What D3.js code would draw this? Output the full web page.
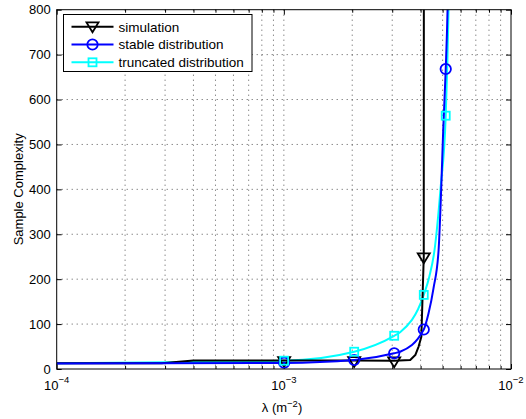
<!DOCTYPE html>
<html>
<head>
<meta charset="utf-8">
<script src="https://cdn.jsdelivr.net/npm/d3@7"></script>
<style>
  body { margin: 0; background: #fff; }
  svg { display: block; font-family: "Liberation Sans", Arial, sans-serif; }
</style>
</head>
<body>
<div id="chart"></div>
<script>
// marker positions (lambda, m^-2) and values
var lambdaMarks = [1.003e-3, 2.04e-3, 3.06e-3, 4.13e-3, 5.16e-3];
var simMarks    = [19, 19, 18.5, 250];
var stableMarks = [14, 20, 35, 88, 668];
var truncMarks  = [18.5, 38.5, 74, 165, 564];

// line traces
var simLambda = [1e-4, 2.9e-4, 4e-4, 1.003e-3, 2.04e-3, 3.06e-3, 3.6e-3, 3.79e-3, 3.92e-3, 4.03e-3, 4.13e-3, 4.135e-3];
var simLine   = [13, 13, 19, 19, 19, 18.5, 20, 31, 50, 72, 250, 1000];

var stableLambda = [1e-4, 1.003e-3, 2.04e-3, 3.06e-3, 3.25e-3, 4.13e-3, 4.335e-3, 4.56e-3, 4.8e-3, 4.93e-3, 5.03e-3, 5.16e-3, 5.256e-3, 5.3e-3];
var stableLine   = [12.5, 13.5, 20, 35, 38.5, 88, 124, 180, 265, 403, 532, 668, 800, 900];

var truncLambda = [1e-4, 1.003e-3, 2.04e-3, 3.06e-3, 3.25e-3, 4.13e-3, 4.366e-3, 4.607e-3, 4.897e-3, 5.16e-3, 5.31e-3, 5.35e-3];
var truncLine   = [13, 18.5, 38.5, 74, 82, 165, 205, 265, 403, 564, 800, 900];

var yTicks = [0, 100, 200, 300, 400, 500, 600, 700, 800];
var xMajor = [1e-4, 1e-3, 1e-2];
var xMajorExp = ["\u22124", "\u22123", "\u22122"];
var xMinor = [2e-4, 3e-4, 4e-4, 5e-4, 6e-4, 7e-4, 8e-4, 9e-4,
              2e-3, 3e-3, 4e-3, 5e-3, 6e-3, 7e-3, 8e-3, 9e-3];

var legendNames = ["simulation", "stable distribution", "truncated distribution"];

var W = 526, H = 419;
var pLeft = 56.7, pRight = 511, pTop = 9.7, pBottom = 369;

var svg = d3.select("#chart").append("svg")
  .attr("width", W).attr("height", H);

var x = d3.scaleLog().domain([1e-4, 1e-2]).range([pLeft, pRight]);
var y = d3.scaleLinear().domain([0, 800]).range([pBottom, pTop]);

svg.append("clipPath").attr("id", "clip")
  .append("rect")
  .attr("x", pLeft).attr("y", pTop)
  .attr("width", pRight - pLeft).attr("height", pBottom - pTop);

// dotted grid
var grid = svg.append("g").attr("stroke", "#444").attr("stroke-width", 0.9)
  .attr("stroke-dasharray", "1,4");
grid.selectAll(".gy").data(yTicks.slice(1, -1)).enter().append("line")
  .attr("x1", pLeft).attr("x2", pRight)
  .attr("y1", function(d) { return y(d); }).attr("y2", function(d) { return y(d); });
grid.selectAll(".gx").data(xMinor.concat([1e-3])).enter().append("line")
  .attr("y1", pTop).attr("y2", pBottom)
  .attr("x1", function(d) { return x(d); }).attr("x2", function(d) { return x(d); });

// axes with inward ticks
var fontSize = 13;
var yAxis = svg.append("g").attr("transform", "translate(" + pLeft + ",0)")
  .call(d3.axisLeft(y).tickValues(yTicks).tickSizeInner(-5).tickSizeOuter(0).tickPadding(6));
svg.append("g").attr("transform", "translate(" + pRight + ",0)")
  .call(d3.axisRight(y).tickValues(yTicks).tickSizeInner(-5).tickSizeOuter(0).tickFormat(""));
svg.append("g").attr("transform", "translate(0," + pBottom + ")")
  .call(d3.axisBottom(x).tickValues(xMajor).tickSizeInner(-5).tickSizeOuter(0).tickFormat(""));
svg.append("g").attr("transform", "translate(0," + pBottom + ")")
  .call(d3.axisBottom(x).tickValues(xMinor).tickSizeInner(-3).tickSizeOuter(0).tickFormat(""));
svg.append("g").attr("transform", "translate(0," + pTop + ")")
  .call(d3.axisTop(x).tickValues(xMajor).tickSizeInner(-5).tickSizeOuter(0).tickFormat(""));
svg.append("g").attr("transform", "translate(0," + pTop + ")")
  .call(d3.axisTop(x).tickValues(xMinor).tickSizeInner(-3).tickSizeOuter(0).tickFormat(""));
svg.selectAll(".domain").remove();
svg.selectAll(".tick line").attr("stroke", "#000");
yAxis.selectAll("text").attr("font-size", fontSize).attr("fill", "#000")
  .attr("font-family", "Liberation Sans, Arial, sans-serif");

// x tick labels 10^n
var xl = svg.append("g").attr("font-size", fontSize).attr("fill", "#000");
xMajor.forEach(function(v, i) {
  var t = xl.append("text").attr("x", x(v)).attr("y", 390).attr("text-anchor", "middle");
  t.append("tspan").text("10");
  t.append("tspan").attr("dy", -7).attr("font-size", 9.5).text(xMajorExp[i]);
});

// axis titles
var xt = svg.append("text").attr("x", 282).attr("y", 412).attr("text-anchor", "middle")
  .attr("font-size", fontSize);
xt.append("tspan").text("\u03bb (m");
xt.append("tspan").attr("dy", -5).attr("font-size", 9.5).text("\u22122");
xt.append("tspan").attr("dy", 5).text(")");

svg.append("text").attr("transform", "translate(23," + ((pTop + pBottom) / 2) + ") rotate(-90)")
  .attr("text-anchor", "middle").attr("font-size", fontSize).text("Sample Complexity");

// lines
function pts(ls, vs) { return ls.map(function(l, i) { return [l, vs[i]]; }); }
var smooth = d3.line().x(function(d) { return x(d[0]); }).y(function(d) { return y(d[1]); })
  .curve(d3.curveMonotoneX);
var straight = d3.line().x(function(d) { return x(d[0]); }).y(function(d) { return y(d[1]); });

var lines = svg.append("g").attr("clip-path", "url(#clip)").attr("fill", "none")
  .attr("stroke-width", 2).attr("stroke-linejoin", "round");
lines.append("path").attr("d", smooth(pts(truncLambda, truncLine))).attr("stroke", "#00ffff");
lines.append("path").attr("d", straight(pts(simLambda, simLine))).attr("stroke", "#000");
lines.append("path").attr("d", smooth(pts(stableLambda, stableLine))).attr("stroke", "#0000ff");

// markers
var tri = "M-6,-3.3L6,-3.3L0,6.5Z";
function triangle(g, cx, cy) {
  g.append("path").attr("d", tri).attr("transform", "translate(" + cx + "," + cy + ")")
    .attr("fill", "none").attr("stroke", "#000").attr("stroke-width", 1.8);
}
function circle(g, cx, cy) {
  g.append("circle").attr("cx", cx).attr("cy", cy).attr("r", 5.2)
    .attr("fill", "none").attr("stroke", "#0000ff").attr("stroke-width", 1.8);
}
function square(g, cx, cy) {
  g.append("rect").attr("x", cx - 4).attr("y", cy - 4).attr("width", 8).attr("height", 8)
    .attr("fill", "none").attr("stroke", "#00ffff").attr("stroke-width", 1.8);
}
var marks = svg.append("g");
simMarks.forEach(function(v, i) { triangle(marks, x(lambdaMarks[i]), y(v)); });
stableMarks.forEach(function(v, i) { circle(marks, x(lambdaMarks[i]), y(v)); });
truncMarks.forEach(function(v, i) { square(marks, x(lambdaMarks[i]), y(v)); });

// box
svg.append("rect").attr("x", pLeft).attr("y", pTop)
  .attr("width", pRight - pLeft).attr("height", pBottom - pTop)
  .attr("fill", "none").attr("stroke", "#000").attr("stroke-width", 1);

// legend
var lg = svg.append("g");
lg.append("rect").attr("x", 63.5).attr("y", 14.5).attr("width", 188.5).attr("height", 57)
  .attr("fill", "#fff").attr("stroke", "#000").attr("stroke-width", 1);
var rowsY = [26.7, 44.5, 62.3];
var colors = ["#000", "#0000ff", "#00ffff"];
legendNames.forEach(function(name, i) {
  lg.append("line").attr("x1", 71.5).attr("x2", 113.5)
    .attr("y1", rowsY[i]).attr("y2", rowsY[i])
    .attr("stroke", colors[i]).attr("stroke-width", 2);
  if (i == 0) triangle(lg, 92.5, rowsY[i] - 1);
  if (i == 1) circle(lg, 92.5, rowsY[i]);
  if (i == 2) square(lg, 92.5, rowsY[i]);
  lg.append("text").attr("x", 118.5).attr("y", rowsY[i] + 4.8)
    .attr("font-size", 13.5).text(name);
});
</script>
</body>
</html>
